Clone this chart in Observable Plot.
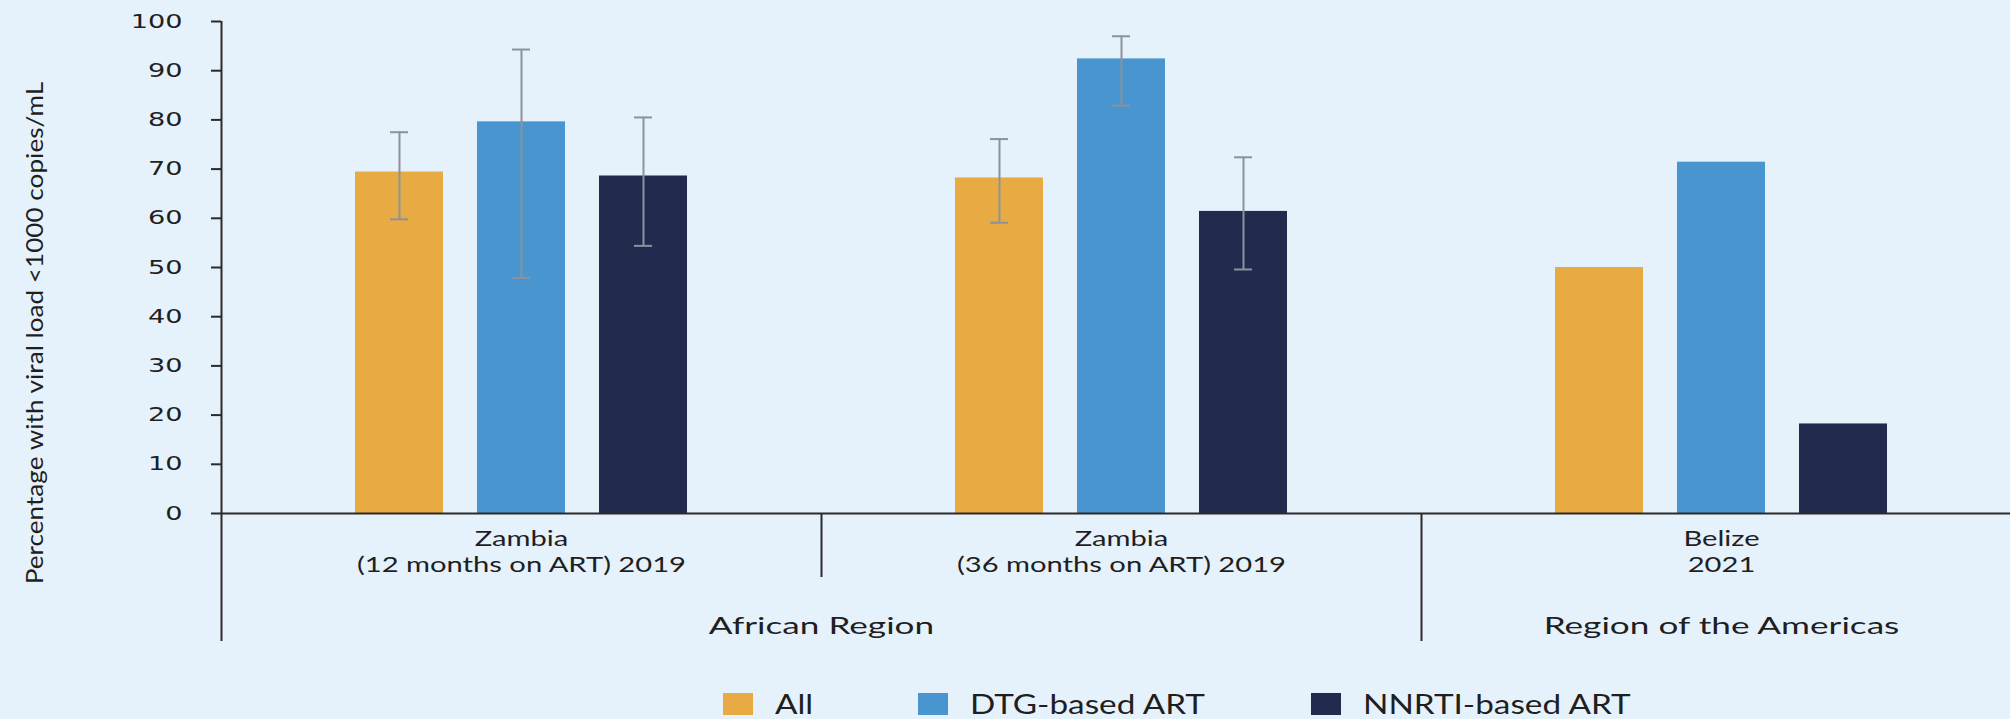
<!DOCTYPE html>
<html>
<head>
<meta charset="utf-8">
<script src="https://cdn.jsdelivr.net/npm/d3@7"></script>
<script src="https://cdn.jsdelivr.net/npm/@observablehq/plot@0.6"></script>
<style>
  html, body { margin: 0; padding: 0; background: #E6F2FB; overflow: hidden; width: 2010px; height: 719px; }
  #chart { width: 2010px; height: 680px; overflow: hidden; }
  #chart svg { max-width: none !important; background: transparent !important; display: block; }
  #legend { display: flex; align-items: flex-start; height: 39px; box-sizing: border-box; padding: 13px 0 0 723px; }
  .item { display: flex; align-items: flex-start; margin-right: 105px; }
  .sw { display: inline-block; width: 30px; height: 22px; margin-right: 22px; }
  .lab { display: inline-block; font-family: Lato, sans-serif; font-size: 26px; line-height: 22px; color: #1f1f1f; white-space: nowrap; transform-origin: 0 0; }
</style>
</head>
<body>
<div id="chart"></div>
<div id="legend"></div>
<script>
// ---------------- data ----------------
const groups = ["Zambia (12 months on ART) 2019", "Zambia (36 months on ART) 2019", "Belize 2021"];
const groupCountry = ["Zambia", "Zambia", "Belize"];
const groupDetail = ["(12 months on ART) 2019", "(36 months on ART) 2019", "2021"];
const groupRegion = ["African Region", "African Region", "Region of the Americas"];
const series = ["All", "DTG-based ART", "NNRTI-based ART"];
const seriesColors = ["#E8AB43", "#4895CF", "#222A4E"];
const valAll = [69.4, 68.2, 50.0];
const valDTG = [79.6, 92.4, 71.4];
const valNNRTI = [68.6, 61.4, 18.2];
const ciLowAll = [59.8, 59.1, null];
const ciHighAll = [77.5, 76.1, null];
const ciLowDTG = [47.9, 82.9, null];
const ciHighDTG = [94.3, 97.0, null];
const ciLowNNRTI = [54.4, 49.6, null];
const ciHighNNRTI = [80.5, 72.4, null];
const yTicks = [0, 10, 20, 30, 40, 50, 60, 70, 80, 90, 100];
const yTitle = "Percentage with viral load <1000 copies/mL";

// ---------------- layout ----------------
const W = 2021, H = 680, mL = 221, mR = 0, mT = 21, mB = 167;
const bw = (W - mL - mR) / groups.length;
const axisColor = "#2a2a2a";
const errColor = "#8C929C";
const textColor = "#1f1f1f";

const seriesData = [[valAll, ciLowAll, ciHighAll], [valDTG, ciLowDTG, ciHighDTG], [valNNRTI, ciLowNNRTI, ciHighNNRTI]];
const rows = [];
groups.forEach((g, i) => {
  seriesData.forEach(([v, lo, hi], j) => {
    rows.push({group: g, series: series[j], value: v[i], low: lo[i], high: hi[i]});
  });
});
const errRows = rows.filter(d => d.low != null);
const groupRows = groups.map((g, i) => ({
  group: g, country: groupCountry[i], detail: groupDetail[i], region: groupRegion[i],
  regionStart: i === 0 || groupRegion[i] !== groupRegion[i - 1]
}));
const regions = Array.from(d3.group(groupRows, d => d.region), ([region, gs]) => ({region, first: gs[0].group, span: gs.length}));

const chart = Plot.plot({
  width: W, height: H,
  marginLeft: mL, marginRight: mR, marginTop: mT, marginBottom: mB,
  style: {background: "transparent", overflow: "visible", maxWidth: "none"},
  fx: {domain: groups, padding: 0, axis: null},
  x: {domain: series, paddingInner: 0.2787, paddingOuter: 1.098, axis: null},
  y: {domain: [0, 100], axis: null},
  color: {domain: series, range: seriesColors},
  marks: [
    Plot.barY(rows, {fx: "group", x: "series", y: "value", fill: "series"}),
    Plot.ruleX(errRows, {fx: "group", x: "series", y1: "low", y2: "high", stroke: errColor, strokeWidth: 2}),
    Plot.tickY(errRows, {fx: "group", x: "series", y: "low", stroke: errColor, strokeWidth: 2, insetLeft: 35, insetRight: 35}),
    Plot.tickY(errRows, {fx: "group", x: "series", y: "high", stroke: errColor, strokeWidth: 2, insetLeft: 35, insetRight: 35}),
    Plot.ruleY([0], {stroke: axisColor, strokeWidth: 2}),
    Plot.axisY({ticks: yTicks, tickSize: 10, tickPadding: 29, tickFormat: d => String(d), fontSize: 19, fontFamily: "DejaVu Sans", stroke: axisColor, strokeWidth: 2, fill: textColor, label: null, facetAnchor: "left"}),
    // y axis line (left edge of first facet)
    Plot.ruleX(groupRows.slice(0, 1), {fx: "group", x: null, y1: 100, y2: 0, dx: -bw / 2, stroke: axisColor, strokeWidth: 2}),
    // region dividers
    Plot.ruleX(groupRows.filter(d => d.regionStart), {fx: "group", x: null, y1: 0, y2: 0, insetBottom: -128, dx: -bw / 2, stroke: axisColor, strokeWidth: 2}),
    // group dividers
    Plot.ruleX(groupRows.filter(d => !d.regionStart), {fx: "group", x: null, y1: 0, y2: 0, insetBottom: -64, dx: -bw / 2, stroke: axisColor, strokeWidth: 2}),
    Plot.text(groupRows, {fx: "group", text: "country", frameAnchor: "bottom", lineAnchor: "middle", textAnchor: "middle", dy: 25, fontSize: 22, fontFamily: "Lato", fill: textColor}),
    Plot.text(groupRows, {fx: "group", text: "detail", frameAnchor: "bottom", lineAnchor: "middle", textAnchor: "middle", dy: 51.7, fontSize: 22, fontFamily: "Lato", fill: textColor}),
    ...regions.map(r => Plot.text([r], {fx: "first", text: "region", frameAnchor: "bottom", lineAnchor: "middle", textAnchor: "middle", dy: 113.6, dx: (r.span - 1) * bw / 2, fontSize: 23, fontFamily: "Lato", fill: textColor})),
    Plot.text([yTitle], {fx: () => groups[0], text: d => d, frameAnchor: "left", rotate: -90, textAnchor: "middle", lineAnchor: "middle", dx: -186, dy: 65.5, fontSize: 24, fontFamily: "Lato", fill: textColor})
  ]
});
document.getElementById("chart").appendChild(chart);
chart.style.maxWidth = "none";
chart.style.background = "transparent";

// horizontal stretch of text to match the wide lettering of the original
const stretch = {"19": 1.43, "22": 1.325, "23": 1.53, "24": 1.09};
chart.querySelectorAll("text").forEach(t => {
  const g = t.closest("[font-size]");
  const fs = g && g.getAttribute("font-size");
  const k = stretch[fs];
  if (k) t.setAttribute("transform", (t.getAttribute("transform") || "") + ` scale(${k},1)`);
});

// ---------------- legend ----------------
const kLegend = 1.28;
const legend = d3.select("#legend");
series.forEach((s, i) => {
  const item = legend.append("div").attr("class", "item");
  item.append("span").attr("class", "sw").style("background", seriesColors[i]);
  item.append("span").attr("class", "lab").text(s);
});
legend.selectAll(".lab").each(function () {
  const w = this.offsetWidth;
  this.style.width = (w * kLegend) + "px";
  this.style.transform = `scaleX(${kLegend})`;
});
</script>
</body>
</html>
